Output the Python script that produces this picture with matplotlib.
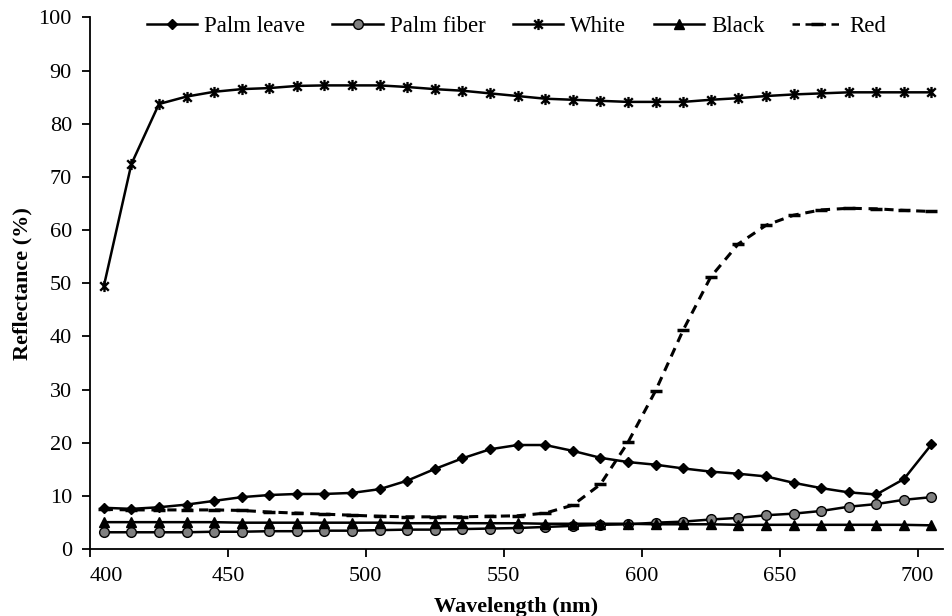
import matplotlib
matplotlib.use("Agg")
import matplotlib.pyplot as plt
from matplotlib.path import Path

# wavelength grid (nm) and reflectance (%) of each sample
wavelength = list(range(405, 706, 10))

palm_leave = [7.8, 7.6, 7.9, 8.4, 9.1, 9.8, 10.2, 10.4, 10.4, 10.6, 11.3,
              12.9, 15.1, 17.1, 18.8, 19.6, 19.6, 18.5, 17.2, 16.4, 15.9,
              15.2, 14.6, 14.2, 13.7, 12.5, 11.5, 10.7, 10.3, 13.2, 19.7]
palm_fiber = [3.2, 3.2, 3.2, 3.2, 3.3, 3.3, 3.4, 3.4, 3.5, 3.5, 3.6,
              3.7, 3.7, 3.8, 3.9, 4.0, 4.2, 4.4, 4.6, 4.7, 5.0,
              5.2, 5.6, 5.9, 6.4, 6.7, 7.2, 8.0, 8.5, 9.3, 9.8]
white = [49.4, 72.4, 83.7, 85.1, 86.0, 86.5, 86.7, 87.1, 87.2, 87.2, 87.2,
         86.9, 86.5, 86.2, 85.7, 85.2, 84.7, 84.5, 84.3, 84.1, 84.1,
         84.1, 84.5, 84.8, 85.2, 85.5, 85.7, 85.9, 85.9, 85.9, 85.9]
black = [5.1, 5.1, 5.1, 5.1, 5.1, 5.0, 5.0, 5.0, 5.0, 5.0, 5.0,
         4.9, 4.9, 4.9, 4.9, 4.9, 4.8, 4.8, 4.8, 4.8, 4.7,
         4.7, 4.7, 4.6, 4.6, 4.6, 4.6, 4.6, 4.6, 4.6, 4.5]
red = [7.5, 7.4, 7.4, 7.4, 7.4, 7.3, 7.0, 6.8, 6.6, 6.4, 6.2,
       6.1, 6.1, 6.1, 6.2, 6.3, 6.8, 8.3, 12.2, 20.1, 29.8,
       41.2, 51.2, 57.4, 60.9, 62.8, 63.8, 64.1, 64.0, 63.7, 63.5]

plt.rcParams['font.family'] = 'Liberation Serif'
plt.rcParams['font.size'] = 16

# asterisk marker: an x crossed by a vertical bar
star = Path([(-1, -1), (1, 1), (-1, 1), (1, -1), (0, -1.3), (0, 1.3)],
            [Path.MOVETO, Path.LINETO, Path.MOVETO, Path.LINETO,
             Path.MOVETO, Path.LINETO])

fig = plt.figure(figsize=(9.53, 6.16), dpi=100)
ax = fig.add_axes([0.0944, 0.1083, 0.8946, 0.8636])

lw = 1.8
ax.plot(wavelength, palm_leave, color='black', lw=lw, marker='D', ms=5.5,
        label='Palm leave')
ax.plot(wavelength, palm_fiber, color='black', lw=lw, marker='o', ms=7,
        mfc='#808080', mec='black', mew=1.0, label='Palm fiber')
ax.plot(wavelength, white, color='black', lw=lw, marker=star, ms=8,
        mew=1.7, label='White')
ax.plot(wavelength, black, color='black', lw=lw, marker='^', ms=6.5,
        label='Black')
ax.plot(wavelength, red, color='black', lw=2.2, ls=(0, (3, 2.2)),
        marker='_', ms=8, mew=2.5, label='Red')

ax.set_xlim(400, 709)
ax.set_ylim(0, 100)
ax.set_xticks(range(400, 701, 50))
ax.set_yticks(range(0, 101, 10))

for side in ['top', 'right']:
    ax.spines[side].set_visible(False)
for side in ['left', 'bottom']:
    ax.spines[side].set_linewidth(1.3)
ax.tick_params(direction='out', length=6, width=1.3, pad=7, labelsize=16)
ax.get_xticklabels()[0].set_horizontalalignment('left')

ax.set_xlabel('Wavelength (nm)', fontsize=16, fontweight='bold', labelpad=8)
ax.set_ylabel('Reflectance (%)', fontsize=16, fontweight='bold', labelpad=4)

handles, labels = ax.get_legend_handles_labels()
leg = ax.legend(handles, labels, ncol=5, loc='center', frameon=False,
                bbox_to_anchor=(0.5, 0.983), fontsize=16.5, handlelength=2.2,
                handletextpad=0.3, columnspacing=1.2, borderaxespad=0)
for h in leg.legend_handles:
    h.set_markevery([1])
    h.set_linewidth(1.8)

fig.savefig('out.png', dpi=100)
